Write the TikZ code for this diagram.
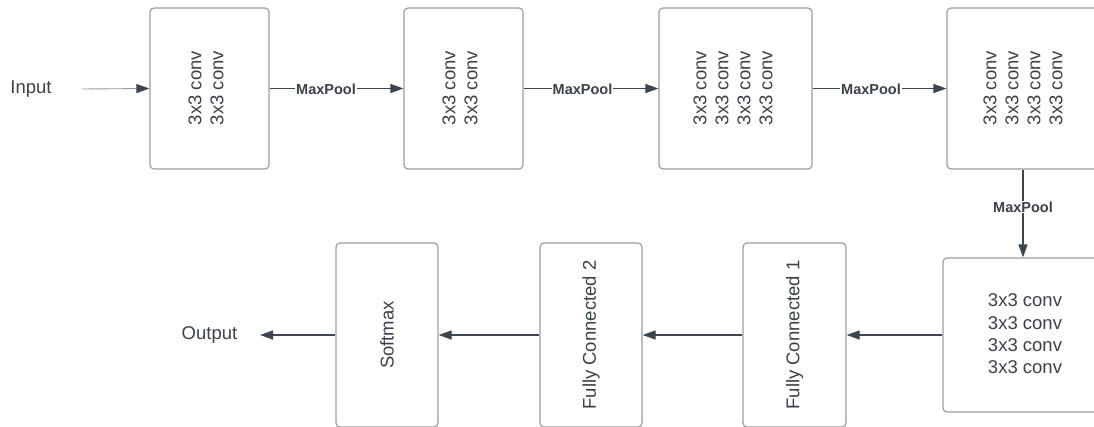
\documentclass[tikz,border=0pt]{standalone}
\usepackage{fontspec}
\setmainfont{Liberation Sans}
\usetikzlibrary{arrows.meta}
\definecolor{txt}{HTML}{3A414A}
\definecolor{edge}{HTML}{9A9DA2}
\definecolor{ln}{HTML}{3D4550}
\tikzset{
  box/.style={draw=edge, line width=1.2pt, rounded corners=4pt, fill=white, inner sep=0pt},
  rot/.style={rotate=90, text=txt, align=center, font=\fontsize{18.5}{22}\selectfont, inner sep=0pt},
  plain/.style={text=txt, align=center, font=\fontsize{18.5}{22.3}\selectfont, inner sep=0pt},
  mp/.style={text=txt, fill=white, font=\fontsize{14.5}{16}\selectfont\bfseries, inner sep=1pt},
  arr/.style={draw=ln, line width=1.2pt, -{Triangle[length=13pt,width=9pt,color=ln,fill=ln]}},
}
\begin{document}
\begin{tikzpicture}[x=1pt,y=-1pt]
\useasboundingbox (0,0) rectangle (1094,426);
\clip (0,0) rectangle (1094,426);
% top row boxes
\node[box, minimum width=119pt, minimum height=161pt] (b1) at (209.5,88.5) {};
\node[box, minimum width=119pt, minimum height=161pt] (b2) at (463.5,88.5) {};
\node[box, minimum width=153pt, minimum height=161pt] (b3) at (735.5,88.5) {};
\node[box, minimum width=156pt, minimum height=161pt] (b4) at (1025,88.5) {};
\node[rot] (t1) at (206,88) {3x3 conv\\3x3 conv};
\node[rot] (t2) at (460,88) {3x3 conv\\3x3 conv};
\node[rot] (t3) at (733,88) {3x3 conv\\3x3 conv\\3x3 conv\\3x3 conv};
\node[rot] (t4) at (1023,88) {3x3 conv\\3x3 conv\\3x3 conv\\3x3 conv};
% bottom row boxes
\node[box, minimum width=164pt, minimum height=154pt] (b5) at (1025,335) {};
\node[plain] (t5) at (1025,334) {3x3 conv\\3x3 conv\\3x3 conv\\3x3 conv};
\node[box, minimum width=103pt, minimum height=184pt] (fc1) at (794.5,335) {};
\node[rot] (tfc1) at (794.5,335) {Fully Connected 1};
\node[box, minimum width=102pt, minimum height=184pt] (fc2) at (591,335) {};
\node[rot] (tfc2) at (591,335) {Fully Connected 2};
\node[box, minimum width=102pt, minimum height=184pt] (sm) at (387,335) {};
\node[rot] (tsm) at (387,335) {Softmax};
% input / output
\node[plain] (inp) at (31,89) {Input};
\coordinate (ins) at (82,89);
\node[plain] (out) at (209.5,335) {Output};
\coordinate (oute) at (260,335);
% connectors
\draw[arr, draw=ln!55, line width=0.9pt] (ins) -- (b1.west);
\draw[arr] (b1.east) -- (b2.west);
\draw[arr] (b2.east) -- (b3.west);
\draw[arr] (b3.east) -- (b4.west);
\draw[arr] ([xshift=-2pt]b4.south) -- ([xshift=-2pt]b5.north);
\draw[arr] (b5.west) -- (fc1.east);
\draw[arr] (fc1.west) -- (fc2.east);
\draw[arr] (fc2.west) -- (sm.east);
\draw[arr] (sm.west) -- (oute);
% labels
\node[mp] (m1) at (326,89) {MaxPool};
\node[mp] (m2) at (582.5,89) {MaxPool};
\node[mp] (m3) at (871,89) {MaxPool};
\node[mp] (m4) at (1023,207) {MaxPool};
\end{tikzpicture}
\end{document}
